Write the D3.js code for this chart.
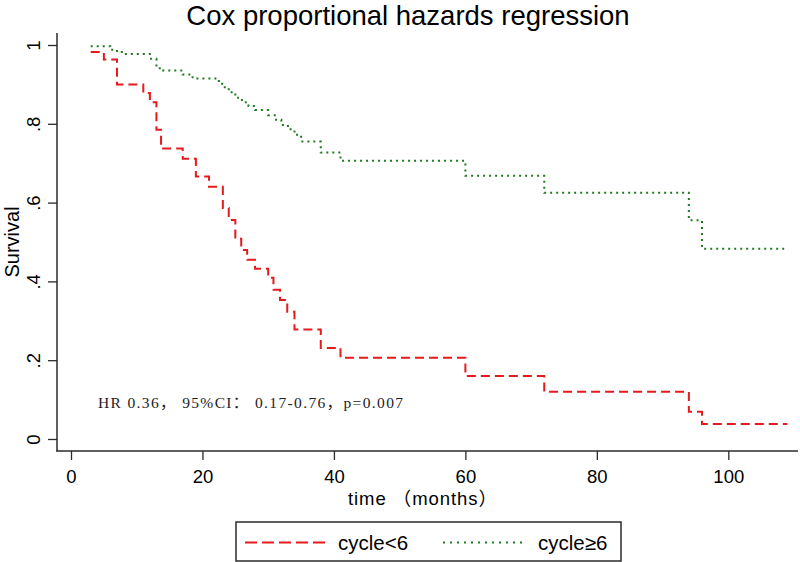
<!DOCTYPE html>
<html>
<head>
<meta charset="utf-8">
<script src="https://cdn.jsdelivr.net/npm/d3@7"></script>
<style>
  body { margin: 0; background: #fff; }
  svg { display: block; }
</style>
</head>
<body>
<svg id="chart" width="800" height="562"></svg>
<script>
// ---- data ----
const titleText = "Cox proportional hazards regression";
const xTicks = [0, 20, 40, 60, 80, 100];
const yTicks = [0, 0.2, 0.4, 0.6, 0.8, 1];
const yTickLabels = ["0", ".2", ".4", ".6", ".8", "1"];
const seriesNames = ["cycle<6", "cycle≥6"];
const endTime = 109;
// cycle<6 step function (time, survival)
const redTimes = [3, 5, 7, 11, 12, 13, 13.7, 17, 19, 21, 23.1, 24, 25, 25.9, 26.8, 28, 30, 30.8, 31.8, 32.9, 34, 38, 41, 60, 72, 94, 96];
const redSurv  = [0.982, 0.963, 0.90, 0.878, 0.855, 0.785, 0.737, 0.711, 0.666, 0.64, 0.586, 0.556, 0.508, 0.48, 0.455, 0.432, 0.409, 0.379, 0.353, 0.323, 0.278, 0.231, 0.206, 0.16, 0.12, 0.069, 0.038];
// cycle>=6 step function
const greenTimes = [3, 6, 7, 8, 12, 13, 13.5, 17, 18.5, 22.5, 23, 24, 25, 26, 27, 28, 30, 31, 32, 33, 34, 35, 38, 41, 60, 72, 94, 96];
const greenSurv  = [0.997, 0.988, 0.982, 0.977, 0.965, 0.948, 0.935, 0.925, 0.915, 0.905, 0.893, 0.88, 0.866, 0.855, 0.845, 0.835, 0.822, 0.81, 0.797, 0.786, 0.772, 0.755, 0.727, 0.706, 0.668, 0.625, 0.555, 0.483];
const annotation = "HR 0.36，  95%CI：  0.17-0.76，p=0.007";
const xLabel = "time （months）";
const yLabel = "Survival";

// ---- drawing ----
const svg = d3.select("#chart");
const sans = "'Liberation Sans', Arial, 'Noto Sans CJK SC', sans-serif";
const axisColor = "#2b2b2b";

const x = d3.scaleLinear().domain([0, 100]).range([71, 728.3]);
const y = d3.scaleLinear().domain([0, 1]).range([439, 45]);

// title
svg.append("text").attr("x", 408).attr("y", 25)
  .attr("text-anchor", "middle").attr("font-family", sans).attr("font-size", 27.5)
  .attr("fill", "#000").text(titleText);

// y axis
const yAxisG = svg.append("g").attr("transform", "translate(57,0)")
  .call(d3.axisLeft(y).tickValues(yTicks).tickSize(9).tickSizeOuter(0)
    .tickFormat((d, i) => yTickLabels[i]));
yAxisG.select(".domain").remove();
yAxisG.selectAll(".tick line").attr("stroke", axisColor).attr("stroke-width", 1.3);
yAxisG.selectAll(".tick text")
  .attr("font-family", sans).attr("font-size", 18.5).attr("fill", "#000")
  .attr("x", null).attr("dy", null)
  .attr("text-anchor", "middle")
  .attr("transform", "translate(-23,0) rotate(-90)")
  .attr("dy", "0.35em");
svg.append("line").attr("x1", 57).attr("x2", 57).attr("y1", 33).attr("y2", 451.5)
  .attr("stroke", axisColor).attr("stroke-width", 1.5);

// x axis
const xAxisG = svg.append("g").attr("transform", "translate(0,451)")
  .call(d3.axisBottom(x).tickValues(xTicks).tickSize(9).tickSizeOuter(0));
xAxisG.select(".domain").remove();
xAxisG.selectAll(".tick line").attr("stroke", axisColor).attr("stroke-width", 1.3);
xAxisG.selectAll(".tick text")
  .attr("font-family", sans).attr("font-size", 18.5).attr("fill", "#000")
  .attr("y", 32).attr("dy", null);
svg.append("line").attr("x1", 56.3).attr("x2", 798).attr("y1", 451).attr("y2", 451)
  .attr("stroke", axisColor).attr("stroke-width", 1.5);

// axis titles
svg.append("text").attr("x", 348).attr("y", 505)
  .attr("font-family", sans).attr("font-size", 18.5)
  .attr("textLength", 149).attr("lengthAdjust", "spacing")
  .attr("fill", "#000").text(xLabel);
svg.append("text").attr("transform", "translate(18.5,242) rotate(-90)")
  .attr("text-anchor", "middle").attr("font-family", sans).attr("font-size", 20)
  .attr("fill", "#000").text(yLabel);

// curves
function stepData(ts, ss) {
  const pts = ts.map((t, i) => [t, ss[i]]);
  pts.push([endTime, ss[ss.length - 1]]);
  return pts;
}
const line = d3.line().x(d => x(d[0])).y(d => y(d[1])).curve(d3.curveStepAfter);
const redColor = "#e41a1c";
const greenColor = "#1f7a1f";

svg.append("path").datum(stepData(greenTimes, greenSurv))
  .attr("d", line).attr("fill", "none").attr("stroke", greenColor)
  .attr("stroke-width", 2).attr("stroke-dasharray", "2,4");
svg.append("path").datum(stepData(redTimes, redSurv))
  .attr("d", line).attr("fill", "none").attr("stroke", redColor)
  .attr("stroke-width", 2).attr("stroke-dasharray", "9,5");

// annotation
svg.append("text").attr("x", 98).attr("y", 408)
  .attr("font-family", "'Liberation Serif', 'DejaVu Serif', 'Noto Sans CJK SC', serif")
  .attr("font-size", 15.5).attr("fill", "#222")
  .attr("textLength", 305).attr("lengthAdjust", "spacing")
  .text(annotation);

// legend
const lg = svg.append("g");
lg.append("rect").attr("x", 236).attr("y", 522).attr("width", 385).attr("height", 39)
  .attr("fill", "#fff").attr("stroke", axisColor).attr("stroke-width", 1.5);
lg.append("line").attr("x1", 245).attr("x2", 325).attr("y1", 542.5).attr("y2", 542.5)
  .attr("stroke", redColor).attr("stroke-width", 2).attr("stroke-dasharray", "12,5");
lg.append("text").attr("x", 338).attr("y", 549.5).attr("font-family", sans)
  .attr("font-size", 20.5).attr("fill", "#000").text(seriesNames[0]);
lg.append("line").attr("x1", 443).attr("x2", 522).attr("y1", 542.5).attr("y2", 542.5)
  .attr("stroke", greenColor).attr("stroke-width", 2).attr("stroke-dasharray", "2,5");
lg.append("text").attr("x", 538).attr("y", 549.5).attr("font-family", sans)
  .attr("font-size", 20.5).attr("fill", "#000").text(seriesNames[1]);
</script>
</body>
</html>
